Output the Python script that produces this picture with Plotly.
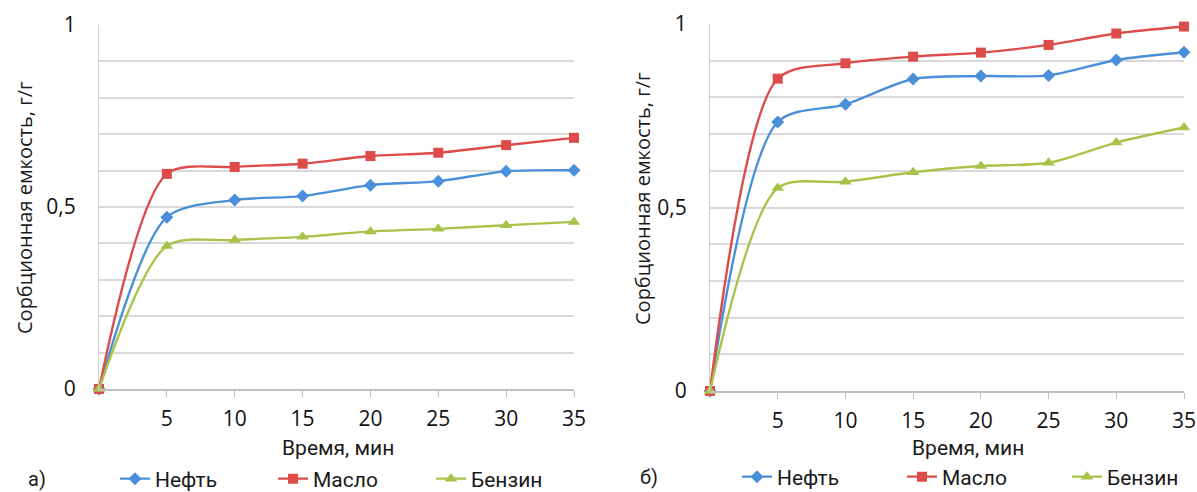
import plotly.graph_objects as go

# ---- data ----
time_min = [0, 5, 10, 15, 20, 25, 30, 35]
x_tick_vals = [5, 10, 15, 20, 25, 30, 35]
x_tick_text = ["5", "10", "15", "20", "25", "30", "35"]
y_tick_vals = [0, 0.5, 1]
y_tick_text = ["0", "0,5", "1"]
series_names = ["Нефть", "Масло", "Бензин"]

# panel a)
a_neft = [0, 0.472, 0.519, 0.530, 0.560, 0.571, 0.598, 0.601]
a_maslo = [0, 0.591, 0.610, 0.619, 0.640, 0.649, 0.670, 0.690]
a_benzin = [0, 0.393, 0.409, 0.418, 0.433, 0.440, 0.450, 0.459]

# panel б)
b_neft = [0, 0.733, 0.781, 0.850, 0.858, 0.860, 0.902, 0.923]
b_maslo = [0, 0.851, 0.893, 0.911, 0.922, 0.943, 0.974, 0.993]
b_benzin = [0, 0.553, 0.570, 0.596, 0.613, 0.622, 0.677, 0.718]

panel_labels = ["а)", "б)"]
x_title = "Время, мин"
y_title = "Сорбционная емкость, г/г"

colors = ["#4a90d9", "#de4b4b", "#a9c34a"]
symbols = ["diamond", "square", "triangle-up"]
msizes = [10, 10, 11]

W, H = 1197, 492
fig = go.Figure()

panels = [
    (a_neft, a_maslo, a_benzin),
    (b_neft, b_maslo, b_benzin),
]
for p, data in enumerate(panels):
    xa = "x" if p == 0 else "x2"
    ya = "y" if p == 0 else "y2"
    lg = "legend" if p == 0 else "legend2"
    for i, (name, vals) in enumerate(zip(series_names, data)):
        fig.add_trace(go.Scatter(
            x=time_min, y=vals, name=name, mode="lines+markers",
            line=dict(color=colors[i], width=2.4, shape="spline", smoothing=0.8),
            marker=dict(symbol=symbols[i], size=msizes[i], color=colors[i]),
            xaxis=xa, yaxis=ya, legend=lg, cliponaxis=False,
        ))

grid_col = "#d9d9d9"
tick_font = dict(family="Open Sans, Lato, sans-serif", size=21, color="#111111")

def xaxis_cfg(domain, anchor):
    return dict(
        domain=domain, anchor=anchor, range=[0, 35], automargin=False,
        tickmode="array", tickvals=x_tick_vals, ticktext=x_tick_text,
        ticks="outside", ticklen=6, tickwidth=1.2, tickcolor="#bfbfbf",
        showline=True, linecolor="#bfbfbf", linewidth=1.5,
        showgrid=False, zeroline=False, tickfont=tick_font,
        ticklabelstandoff=4, fixedrange=True,
    )

def yaxis_cfg(domain, anchor):
    return dict(
        domain=domain, anchor=anchor, range=[0, 1], automargin=False,
        tickmode="array", tickvals=y_tick_vals, ticktext=y_tick_text,
        showgrid=True, gridcolor=grid_col, gridwidth=1.5,
        minor=dict(dtick=0.1, tick0=0, showgrid=True, gridcolor=grid_col, gridwidth=1.5),
        showline=True, linecolor="#d0d0d0", linewidth=1.2,
        zeroline=False, ticks="", tickfont=tick_font,
        ticklabelstandoff=18, fixedrange=True,
    )

def px_x(v):
    return v / W

def px_y(v):
    return 1 - v / H

legend_font = dict(family="Roboto, sans-serif", size=21, color="#1a1a1a")
fig.update_layout(
    width=W, height=H,
    margin=dict(l=0, r=0, t=0, b=0, autoexpand=False),
    paper_bgcolor="white", plot_bgcolor="white",
    xaxis=xaxis_cfg([px_x(99), px_x(574)], "y"),
    yaxis=yaxis_cfg([px_y(389), px_y(25)], "x"),
    xaxis2=xaxis_cfg([px_x(710), px_x(1184)], "y2"),
    yaxis2=yaxis_cfg([px_y(391), px_y(24)], "x2"),
    legend=dict(orientation="h", x=px_x(115), y=px_y(479), xanchor="left", yanchor="middle",
                font=legend_font, entrywidth=113, entrywidthmode="pixels",
                bgcolor="rgba(0,0,0,0)", itemclick=False, itemdoubleclick=False),
    legend2=dict(orientation="h", x=px_x(737), y=px_y(477), xanchor="left", yanchor="middle",
                 font=legend_font, entrywidth=120, entrywidthmode="pixels",
                 bgcolor="rgba(0,0,0,0)", itemclick=False, itemdoubleclick=False),
    showlegend=True,
)

title_font = dict(family="Roboto, sans-serif", size=21, color="#1a1a1a")
ytitle_font = dict(family="Open Sans, sans-serif", size=20, color="#1a1a1a")
annots = [
    dict(text=x_title, x=px_x(338), y=px_y(448), font=title_font),
    dict(text=x_title, x=px_x(968), y=px_y(448), font=title_font),
    dict(text=y_title, x=px_x(24), y=px_y(208), font=ytitle_font, textangle=-90),
    dict(text=y_title, x=px_x(642), y=px_y(199), font=ytitle_font, textangle=-90),
    dict(text=panel_labels[0], x=px_x(37), y=px_y(479), font=dict(family="Roboto, sans-serif", size=20, color="#1a1a1a")),
    dict(text=panel_labels[1], x=px_x(649), y=px_y(477), font=dict(family="Roboto, sans-serif", size=20, color="#1a1a1a")),
]
for a in annots:
    fig.add_annotation(xref="paper", yref="paper", showarrow=False,
                       xanchor="center", yanchor="middle", **a)

fig.write_html("out.html", config={"displayModeBar": False},
               post_script="document.body.style.margin='0';document.body.style.overflow='hidden';")
